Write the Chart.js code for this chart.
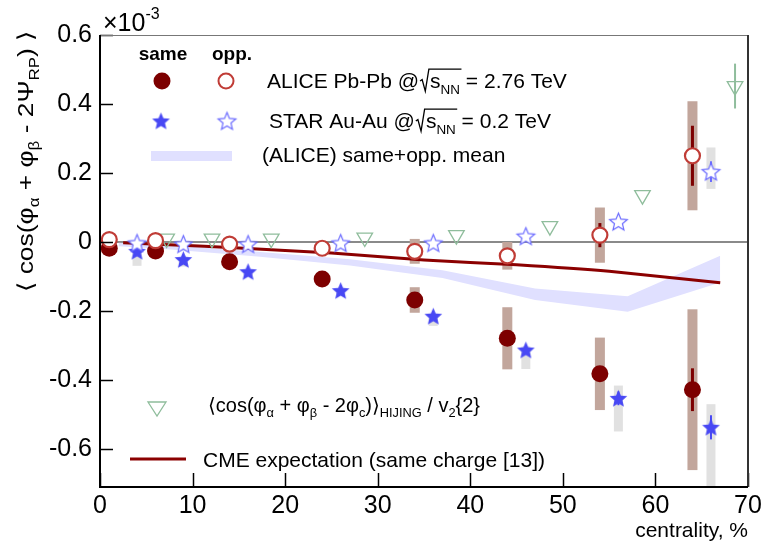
<!DOCTYPE html>
<html>
<head>
<meta charset="utf-8">
<script src="https://cdn.jsdelivr.net/npm/chart.js@4.4.0/dist/chart.umd.min.js"></script>
<style>
  html, body { margin: 0; padding: 0; background: #fff; }
  #wrap { width: 771px; height: 544px; }
</style>
</head>
<body>
<div id="wrap"><canvas id="chart" width="771" height="544"></canvas></div>
<script>
// centrality positions (shifted so the experiments don't overlap)
const aliceX = [1, 6, 14, 24, 34, 44, 54, 64];
const starX = [4, 9, 16, 26, 36, 46, 56, 66];
const hijingX = [7.2, 12.1, 18.5, 28.6, 38.5, 48.6, 58.6, 68.6];

// ALICE Pb-Pb, values x 10^-3
const aliceSame = [-0.018, -0.026, -0.057, -0.107, -0.168, -0.279, -0.382, -0.428];
const aliceSameStat = [0.002, 0.003, 0.004, 0.006, 0.010, 0.015, 0.020, 0.062];
const aliceSameSys = [0.004, 0.004, 0.005, 0.007, 0.037, 0.090, 0.105, 0.233];
const aliceOpp = [0.007, 0.004, -0.006, -0.018, -0.027, -0.040, 0.020, 0.250];
const aliceOppStat = [0.002, 0.003, 0.004, 0.006, 0.010, 0.015, 0.035, 0.087];
const aliceOppSys = [0.004, 0.004, 0.005, 0.007, 0.036, 0.040, 0.080, 0.158];

// STAR Au-Au
const starSame = [-0.027, -0.051, -0.086, -0.141, -0.215, -0.313, -0.453, -0.537];
const starSameStat = [0.003, 0.003, 0.004, 0.005, 0.008, 0.012, 0.020, 0.035];
const starSameSysHi = [0.015, 0.005, 0.005, 0.005, 0.005, 0.010, 0.037, 0.067];
const starSameSysLo = [0.042, 0.020, 0.010, 0.010, 0.028, 0.055, 0.096, 0.190];
const starOpp = [-0.003, -0.006, -0.006, -0.003, -0.003, 0.017, 0.059, 0.204];
const starOppStat = [0.002, 0.002, 0.003, 0.004, 0.005, 0.008, 0.012, 0.030];
const starOppSysHi = [0.004, 0.004, 0.004, 0.004, 0.005, 0.006, 0.008, 0.070];
const starOppSysLo = [0.004, 0.004, 0.004, 0.004, 0.005, 0.006, 0.008, 0.050];

// HIJING <cos(a+b-2c)>/v2{2}
const hijing = [0.010, 0.010, 0.010, 0.013, 0.020, 0.046, 0.136, 0.452];
const hijingErr = [0, 0, 0, 0, 0, 0, 0, 0.065];

// (ALICE) same+opp. mean band
const bandX = [2, 7, 17, 27, 37, 47, 57, 67];
const bandHi = [-0.002, -0.008, -0.028, -0.050, -0.082, -0.135, -0.157, -0.040];
const bandLo = [-0.012, -0.020, -0.042, -0.068, -0.104, -0.168, -0.202, -0.117];

// CME expectation (same charge)
const cmeX = [2.5, 7.5, 15, 25, 35, 45, 55, 67];
const cme = [-0.002, -0.008, -0.017, -0.032, -0.052, -0.066, -0.085, -0.118];

const xTicks = [0, 10, 20, 30, 40, 50, 60, 70];
const yTicks = [-0.6, -0.4, -0.2, 0, 0.2, 0.4, 0.6];

const FONT = '"Liberation Sans", Arial, "DejaVu Sans", sans-serif';
const C_SAME = '#7d0000';
const C_OPP = '#c03c36';
const C_BOX = '#c2a69c';
const C_STAR = '#4848f4';
const C_STAR_OPEN = '#6a6aff';
const C_HIJ = '#8fbd9c';
const C_BAND = '#e0e0ff';
const C_CME = '#8b0000';

function pts(xs, ys) { return xs.map((x, i) => ({ x: x, y: ys[i] })); }

function starCanvas(r, fill, stroke, lw) {
    const s = Math.ceil(2 * r + 2 * lw + 2);
    const c = document.createElement('canvas');
    c.width = s; c.height = s;
    const g = c.getContext('2d');
    g.beginPath();
    for (let i = 0; i < 10; i++) {
        const rad = i % 2 === 0 ? r : r * 0.45;
        const a = -Math.PI / 2 + i * Math.PI / 5;
        const px = s / 2 + rad * Math.cos(a), py = s / 2 + rad * Math.sin(a) + r * 0.08;
        if (i === 0) g.moveTo(px, py); else g.lineTo(px, py);
    }
    g.closePath();
    g.fillStyle = fill;
    g.fill();
    if (stroke) { g.lineWidth = lw; g.strokeStyle = stroke; g.stroke(); }
    return c;
}

const starFilled = starCanvas(9.3, C_STAR, null, 0);
const starOpen = starCanvas(9.3, '#fff', C_STAR_OPEN, 1.2);

// rich text: parts = [text, mode] with mode '', 'sub', 'sup'
function rich(ctx, x, y, parts, size, color) {
    let cx = x;
    ctx.fillStyle = color || '#000';
    ctx.textAlign = 'left';
    ctx.textBaseline = 'alphabetic';
    for (const [t, m] of parts) {
        let fs = size, dy = 0;
        if (m === 'sub') { fs = size * 0.64; dy = size * 0.27; }
        if (m === 'sup') { fs = size * 0.64; dy = -size * 0.48; }
        ctx.font = fs + 'px ' + FONT;
        ctx.fillText(t, cx, y + dy);
        cx += ctx.measureText(t).width;
    }
    return cx;
}

// "sqrt(s_NN)" piece, returns x after it
function sqrtS(ctx, x, y, size) {
    ctx.font = size + 'px ' + FONT;
    const sw = ctx.measureText('s').width;
    ctx.font = (size * 0.64) + 'px ' + FONT;
    const nw = ctx.measureText('NN').width;
    const end = x + size * 0.5 + sw + nw + 1;
    ctx.save();
    ctx.strokeStyle = '#000';
    ctx.lineWidth = 1.3;
    ctx.beginPath();
    ctx.moveTo(x, y - size * 0.33);
    ctx.lineTo(x + size * 0.1, y - size * 0.4);
    ctx.lineTo(x + size * 0.25, y + size * 0.15);
    ctx.lineTo(x + size * 0.42, y - size * 0.9);
    ctx.lineTo(end, y - size * 0.9);
    ctx.stroke();
    ctx.restore();
    return rich(ctx, x + size * 0.48, y, [['s', ''], ['NN', 'sub']], size);
}

const errorPlugin = {
    id: 'errors',
    beforeDatasetsDraw(chart) {
        const ctx = chart.ctx;
        const xs = chart.scales.x, ys = chart.scales.y;
        const a = chart.chartArea;
        ctx.save();
        ctx.beginPath();
        ctx.rect(a.left, a.top, a.right - a.left, a.bottom - a.top);
        ctx.clip();

        function boxes(xv, yv, lo, hi, color, w) {
            ctx.fillStyle = color;
            xv.forEach((x, i) => {
                const px = xs.getPixelForValue(x);
                const top = ys.getPixelForValue(yv[i] + hi[i]);
                const bot = ys.getPixelForValue(yv[i] - lo[i]);
                ctx.fillRect(px - w / 2, top, w, bot - top);
            });
        }
        function bars(xv, yv, err, color, lw) {
            ctx.strokeStyle = color;
            ctx.lineWidth = lw;
            xv.forEach((x, i) => {
                if (!err[i]) return;
                const px = xs.getPixelForValue(x);
                ctx.beginPath();
                ctx.moveTo(px, ys.getPixelForValue(yv[i] + err[i]));
                ctx.lineTo(px, ys.getPixelForValue(yv[i] - err[i]));
                ctx.stroke();
            });
        }

        boxes(starX, starSame, starSameSysLo, starSameSysHi, '#e1e1e1', 9);
        boxes(starX, starOpp, starOppSysLo, starOppSysHi, '#e1e1e1', 9);
        boxes(aliceX, aliceSame, aliceSameSys, aliceSameSys, C_BOX, 10);
        boxes(aliceX, aliceOpp, aliceOppSys, aliceOppSys, C_BOX, 10);

        bars(aliceX, aliceSame, aliceSameStat, C_SAME, 3);
        bars(aliceX, aliceOpp, aliceOppStat, C_SAME, 3);
        bars(starX, starSame, starSameStat, C_STAR, 2);
        bars(starX, starOpp, starOppStat, C_STAR_OPEN, 2);
        bars(hijingX, hijing, hijingErr, C_HIJ, 2);
        ctx.restore();
    },
    afterDraw(chart) {
        const ctx = chart.ctx;
        const xs = chart.scales.x, ys = chart.scales.y;
        const a = chart.chartArea;
        ctx.save();

        // inward ticks
        ctx.strokeStyle = '#000';
        ctx.lineWidth = 1.5;
        yTicks.forEach(v => {
            const py = Math.round(ys.getPixelForValue(v)) + 0.5;
            ctx.beginPath(); ctx.moveTo(a.left, py); ctx.lineTo(a.left + 13, py); ctx.stroke();
        });
        xTicks.forEach(v => {
            const px = Math.round(xs.getPixelForValue(v)) + 0.5;
            ctx.beginPath(); ctx.moveTo(px, a.bottom); ctx.lineTo(px, a.bottom - 14); ctx.stroke();
        });

        // frame
        ctx.strokeStyle = '#777';
        ctx.lineWidth = 1;
        ctx.beginPath(); ctx.moveTo(a.left, a.top + 0.5); ctx.lineTo(a.right, a.top + 0.5); ctx.stroke();
        ctx.strokeStyle = '#333';
        ctx.lineWidth = 2;
        ctx.beginPath(); ctx.moveTo(a.right, a.top); ctx.lineTo(a.right, a.bottom); ctx.stroke();
        ctx.strokeStyle = '#000';
        ctx.beginPath();
        ctx.moveTo(a.left, a.top); ctx.lineTo(a.left, a.bottom); ctx.lineTo(a.right, a.bottom);
        ctx.stroke();

        // x10^-3
        rich(ctx, 103, 31, [['×10', ''], ['-3', 'sup']], 25);

        // x title
        ctx.font = '21px ' + FONT;
        ctx.fillStyle = '#000';
        ctx.textAlign = 'right';
        ctx.fillText('centrality, %', a.right, 537);

        // y title
        ctx.save();
        ctx.translate(33, 292);
        ctx.rotate(-Math.PI / 2);
        ctx.scale(1.2, 1);
        rich(ctx, 0, 0, [['⟨ cos(φ', ''], ['α', 'sub'], [' + φ', ''], ['β', 'sub'],
            [' - 2Ψ', ''], ['RP', 'sub'], [') ⟩', '']], 22);
        ctx.restore();

        // legend
        ctx.fillStyle = '#000';
        ctx.textAlign = 'center';
        ctx.font = 'bold 19px ' + FONT;
        ctx.fillText('same', 163, 60);
        ctx.fillText('opp.', 232, 60);

        ctx.beginPath(); ctx.arc(162, 81, 8.5, 0, Math.PI * 2);
        ctx.fillStyle = C_SAME; ctx.fill();
        ctx.beginPath(); ctx.arc(226, 81, 7.5, 0, Math.PI * 2);
        ctx.fillStyle = '#fff'; ctx.fill();
        ctx.strokeStyle = C_OPP; ctx.lineWidth = 2; ctx.stroke();
        let x = rich(ctx, 267, 88, [['ALICE Pb-Pb @', '']], 21);
        x = sqrtS(ctx, x + 1, 88, 21);
        rich(ctx, x, 88, [[' = 2.76 TeV', '']], 21);

        ctx.drawImage(starFilled, 161 - starFilled.width / 2, 121 - starFilled.height / 2);
        ctx.drawImage(starOpen, 227 - starOpen.width / 2, 121 - starOpen.height / 2);
        x = rich(ctx, 269, 128, [['STAR Au-Au @', '']], 21);
        x = sqrtS(ctx, x + 1, 128, 21);
        rich(ctx, x, 128, [[' = 0.2 TeV', '']], 21);

        ctx.fillStyle = C_BAND;
        ctx.fillRect(151, 151, 81, 10);
        rich(ctx, 262, 162, [['(ALICE) same+opp. mean', '']], 21);

        // HIJING legend marker (down triangle)
        ctx.strokeStyle = C_HIJ; ctx.lineWidth = 1.3;
        ctx.beginPath();
        ctx.moveTo(148, 402); ctx.lineTo(166, 402); ctx.lineTo(157, 416); ctx.closePath();
        ctx.stroke();
        rich(ctx, 208, 412, [['⟨cos(φ', ''], ['α', 'sub'], [' + φ', ''], ['β', 'sub'],
            [' - 2φ', ''], ['c', 'sub'], [')⟩', ''], ['HIJING', 'sub'], [' / v', ''], ['2', 'sub'], ['{2}', '']], 20);

        ctx.strokeStyle = C_CME; ctx.lineWidth = 3;
        ctx.beginPath(); ctx.moveTo(130, 459); ctx.lineTo(186, 459); ctx.stroke();
        rich(ctx, 203, 467, [['CME expectation (same charge [13])', '']], 21);

        ctx.restore();
    }
};

new Chart(document.getElementById('chart'), {
    type: 'scatter',
    data: {
        datasets: [
            {
                label: 'band hi', data: pts(bandX, bandHi), showLine: true,
                borderWidth: 0, pointRadius: 0, fill: false, order: 10
            },
            {
                label: 'band lo', data: pts(bandX, bandLo), showLine: true,
                borderWidth: 0, pointRadius: 0, fill: '-1', backgroundColor: C_BAND, order: 10
            },
            {
                label: 'CME', data: pts(cmeX, cme), showLine: true, tension: 0.2,
                borderColor: C_CME, borderWidth: 3, pointRadius: 0, order: 9
            },
            {
                label: 'HIJING', data: pts(hijingX, hijing), pointStyle: 'triangle', rotation: 180,
                pointRadius: 9, borderColor: C_HIJ, borderWidth: 1.3, backgroundColor: 'rgba(0,0,0,0)', order: 8
            },
            {
                label: 'ALICE same', data: pts(aliceX, aliceSame), pointRadius: 8.5,
                backgroundColor: C_SAME, borderColor: C_SAME, borderWidth: 0, order: 4
            },
            {
                label: 'STAR same', data: pts(starX, starSame), pointStyle: starFilled, order: 3
            },
            {
                label: 'ALICE opp', data: pts(aliceX, aliceOpp), pointRadius: 7.5,
                backgroundColor: '#fff', borderColor: C_OPP, borderWidth: 2.2, order: 2
            },
            {
                label: 'STAR opp', data: pts(starX, starOpp), pointStyle: starOpen, order: 1
            }
        ]
    },
    options: {
        responsive: false,
        animation: false,
        devicePixelRatio: 1,
        layout: { padding: { top: 35, right: 23, left: 0, bottom: 0 } },
        plugins: { legend: { display: false }, tooltip: { enabled: false } },
        scales: {
            x: {
                type: 'linear', min: 0, max: 70,
                afterBuildTicks: s => { s.ticks = xTicks.map(v => ({ value: v })); },
                afterFit: s => { s.height = 57; },
                grid: { display: false, drawTicks: false },
                border: { display: false },
                ticks: { font: { size: 25, family: FONT }, color: '#000', padding: 4, maxRotation: 0, autoSkip: false }
            },
            y: {
                min: -0.71, max: 0.6,
                afterBuildTicks: s => { s.ticks = yTicks.map(v => ({ value: v })); },
                afterFit: s => { s.width = 100; },
                grid: {
                    drawTicks: false, lineWidth: 2,
                    color: c => (c.tick && Math.abs(c.tick.value) < 1e-9) ? '#8a8a8a' : 'rgba(0,0,0,0)'
                },
                border: { display: false },
                ticks: {
                    font: { size: 25, family: FONT }, color: '#000', padding: 8, autoSkip: false,
                    callback: v => Math.abs(v) < 1e-9 ? '0' : v.toFixed(1)
                }
            }
        }
    },
    plugins: [errorPlugin]
});
</script>
</body>
</html>
